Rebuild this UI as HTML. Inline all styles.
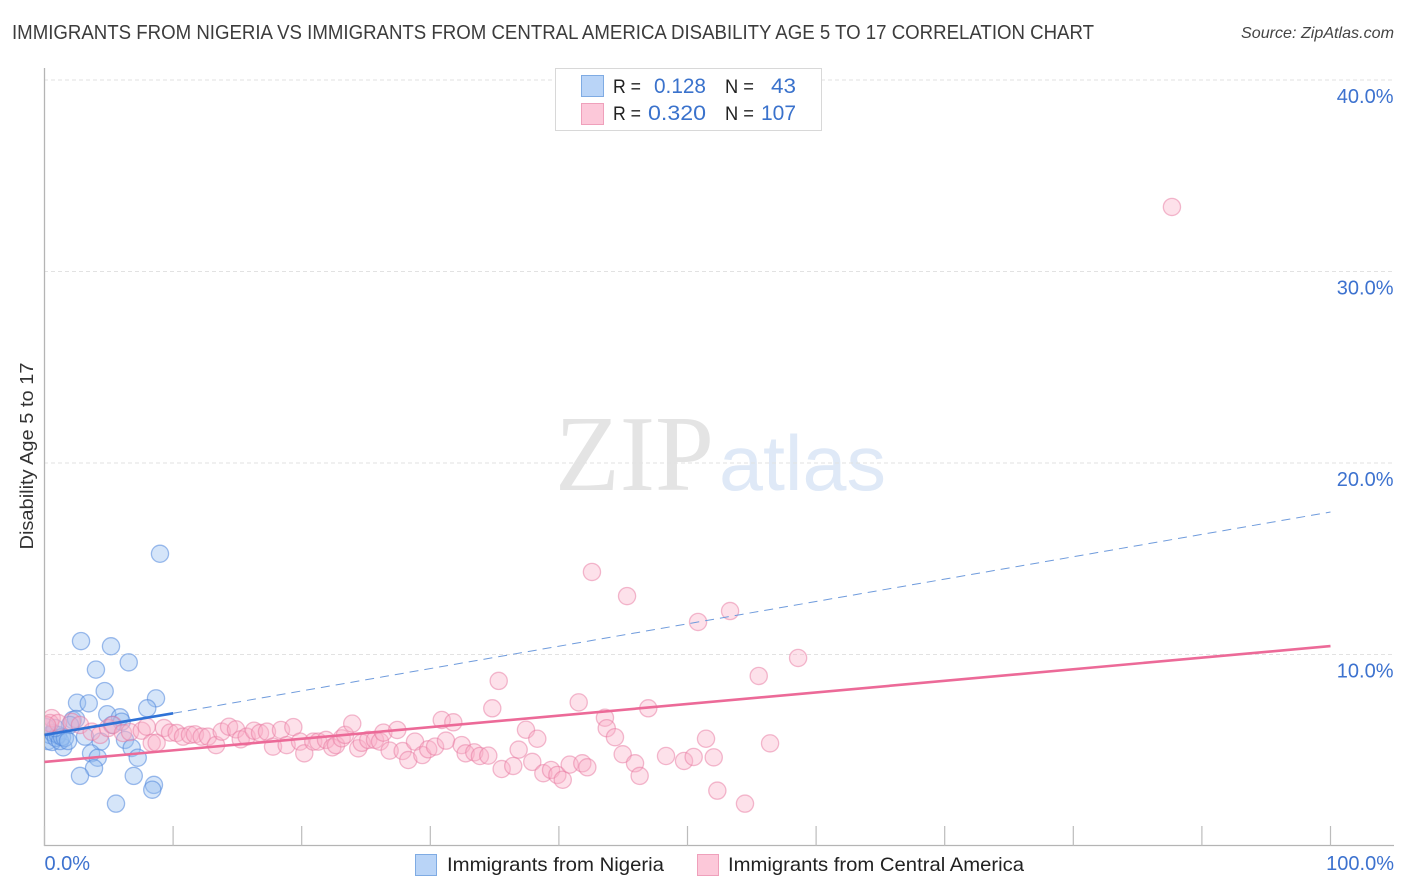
<!DOCTYPE html>
<html lang="en">
<head>
<meta charset="utf-8">
<title>Immigrants from Nigeria vs Immigrants from Central America Disability Age 5 to 17 Correlation Chart</title>
<style>
html,body{margin:0;padding:0;background:#fff;width:1406px;height:892px;overflow:hidden}
svg{display:block;font-family:"Liberation Sans",sans-serif}
</style>
</head>
<body>
<svg id="chart" xmlns="http://www.w3.org/2000/svg" width="1406" height="892" viewBox="0 0 1406 892">
  <defs><clipPath id="plot-clip"><rect x="45" y="60" width="1350" height="786"/></clipPath></defs>
  <rect x="0" y="0" width="1406" height="892" fill="#ffffff"/>
  <text x="12" y="39" font-size="20" fill="#3c3c3c" textLength="1082" lengthAdjust="spacingAndGlyphs">IMMIGRANTS FROM NIGERIA VS IMMIGRANTS FROM CENTRAL AMERICA DISABILITY AGE 5 TO 17 CORRELATION CHART</text>
  <text x="1241" y="38" font-size="16" font-style="italic" fill="#444" textLength="153" lengthAdjust="spacingAndGlyphs">Source: ZipAtlas.com</text>
  <g>
    <text x="555" y="490" font-family="'Liberation Serif',serif" font-size="108" fill="#e4e4e4" textLength="159" lengthAdjust="spacingAndGlyphs">ZIP</text>
    <text x="719" y="490" font-size="78" fill="#dfe9f7" textLength="167" lengthAdjust="spacingAndGlyphs">atlas</text>
  </g>
  <g id="grid"></g>
  <g id="axes"></g>
  <g id="points-blue" clip-path="url(#plot-clip)"></g>
  <g id="points-pink" clip-path="url(#plot-clip)"></g>
  <g id="trends"></g>
  <text x="33" y="456" font-size="18" fill="#333" text-anchor="middle" textLength="187" lengthAdjust="spacingAndGlyphs" transform="rotate(-90 33 456)">Disability Age 5 to 17</text>

  <g>
    <rect x="555.5" y="68.5" width="266" height="62" fill="#fff" stroke="#d8d8d8" stroke-width="1"/>
    <rect x="581.5" y="75.5" width="22" height="21" fill="#b9d4f7" stroke="#7fabe3"/>
    <rect x="581.5" y="103.5" width="22" height="21" fill="#fcc8d9" stroke="#efa0bb"/>
    <g font-size="19.5" fill="#222">
      <text x="613" y="93" textLength="28" lengthAdjust="spacingAndGlyphs">R =</text>
      <text x="613" y="120" textLength="28" lengthAdjust="spacingAndGlyphs">R =</text>
      <text x="725" y="93" textLength="29" lengthAdjust="spacingAndGlyphs">N =</text>
      <text x="725" y="120" textLength="29" lengthAdjust="spacingAndGlyphs">N =</text>
    </g>
    <g font-size="21" fill="#3a72cc">
      <text x="654" y="93" textLength="52" lengthAdjust="spacingAndGlyphs">0.128</text>
      <text x="648" y="120" textLength="58" lengthAdjust="spacingAndGlyphs">0.320</text>
      <text x="771" y="93" textLength="25" lengthAdjust="spacingAndGlyphs">43</text>
      <text x="761" y="120" textLength="35" lengthAdjust="spacingAndGlyphs">107</text>
    </g>
  </g>

  <g>
    <rect x="415.5" y="854.5" width="21" height="21" fill="#b9d4f7" stroke="#7fabe3"/>
    <text x="447" y="871" font-size="19.5" fill="#222" textLength="217" lengthAdjust="spacingAndGlyphs">Immigrants from Nigeria</text>
    <rect x="697.5" y="854.5" width="21" height="21" fill="#fcc8d9" stroke="#efa0bb"/>
    <text x="728" y="871" font-size="19.5" fill="#222" textLength="296" lengthAdjust="spacingAndGlyphs">Immigrants from Central America</text>
  </g>
</svg>
<script>
var blueX = [8.98,2.84,5.17,6.55,4.00,4.68,8.67,2.53,3.44,7.99,4.88,5.87,2.19,2.45,6.00,5.25,3.15,4.37,6.26,6.78,1.46,7.25,3.62,4.14,3.85,2.76,6.94,8.51,8.38,5.56,0.27,0.43,0.58,0.66,0.89,1.05,1.21,1.36,1.59,1.98,1.83,0.82,0.12];
var blueY = [15.26,10.70,10.43,9.59,9.21,8.09,7.71,7.48,7.45,7.19,6.88,6.72,6.58,6.63,6.49,6.32,5.71,5.45,5.54,5.12,5.15,4.61,4.84,4.61,4.06,3.66,3.66,3.19,2.94,2.21,5.48,5.80,5.43,5.90,5.64,5.80,5.48,5.69,5.64,6.32,5.48,6.16,6.21];
var pinkX = [0.56,0.43,1.05,2.12,2.76,3.67,4.32,4.94,5.33,6.10,6.65,7.56,7.95,8.34,8.72,9.29,9.76,10.28,10.77,11.31,11.70,12.22,12.71,13.34,13.78,14.35,14.89,15.26,15.72,16.29,16.76,17.30,17.77,18.39,18.83,19.35,19.87,20.20,20.90,21.29,21.89,22.38,22.67,23.11,23.37,23.93,24.40,24.67,25.18,25.70,26.09,26.35,26.84,27.43,27.85,28.29,28.81,29.38,29.84,30.37,30.89,31.79,31.22,32.44,32.75,33.42,33.86,34.51,34.82,35.55,35.32,41.54,46.95,55.54,43.58,43.72,44.36,37.44,38.32,36.87,36.45,37.93,38.79,39.39,39.88,40.30,40.84,41.82,42.21,44.96,45.92,46.28,48.33,49.73,50.48,52.04,51.44,56.42,52.32,54.47,87.67,42.57,45.30,53.31,50.82,58.60,0.20];
var pinkY = [6.68,6.42,6.42,6.48,6.32,5.97,5.80,6.16,6.32,5.90,5.95,6.02,6.23,5.38,5.39,6.16,5.92,5.90,5.71,5.80,5.83,5.71,5.71,5.27,5.97,6.23,6.09,5.57,5.71,6.02,5.90,5.97,5.19,6.06,5.27,6.21,5.45,4.84,5.45,5.45,5.54,5.15,5.27,5.62,5.80,6.39,5.10,5.39,5.54,5.54,5.45,5.92,4.98,6.06,4.96,4.49,5.45,4.75,5.05,5.19,6.58,6.46,5.50,5.27,4.84,4.89,4.70,4.72,7.19,4.02,8.62,7.50,7.19,8.88,6.70,6.15,5.68,6.07,5.60,5.03,4.18,4.39,3.80,3.97,3.71,3.46,4.25,4.32,4.11,4.79,4.32,3.66,4.70,4.44,4.65,4.63,5.60,5.36,2.89,2.21,33.37,14.31,13.05,12.27,11.70,9.82,6.30];
var blueTrendX = [0,10,100];
var blueTrendY = [5.80,6.93,17.44];
var pinkTrendX = [0,100];
var pinkTrendY = [4.39,10.44];
var yTicks = [10,20,30,40];
var yTickLabels = ["10.0%","20.0%","30.0%","40.0%"];
var xTicks = [0,10,20,30,40,50,60,70,80,90,100];
var xEndTicks = [0,100];
var xEndLabels = ["0.0%","100.0%"];

function sx(v){ return 44.5 + v * 12.86; }
function sy(v){ return 846 - v * 19.15; }

var NS = 'http://www.w3.org/2000/svg';
function mk(tag, parent, attrs){
  var el = document.createElementNS(NS, tag);
  for (var k in attrs) el.setAttribute(k, attrs[k]);
  parent.appendChild(el);
  return el;
}

var grid = document.getElementById('grid');
yTicks.forEach(function(t){
  var el = mk('line', grid, {x1:44, x2:1394, y1:sy(t), y2:sy(t), stroke:'#e2e2e2', 'stroke-width':1, 'stroke-dasharray':'4 3'});
  
  
});

var axes = document.getElementById('axes');
var yAxisLine = mk('line', axes, {x1:44.5, x2:44.5, y1:68, y2:846, stroke:'#b4b4b4', 'stroke-width':1.3});


var xAxisLine = mk('line', axes, {x1:44, x2:1394, y1:845.5, y2:845.5, stroke:'#b4b4b4', 'stroke-width':1.3});


xTicks.forEach(function(t){
  var el = mk('line', axes, {x1:sx(t), x2:sx(t), y1:826, y2:846, stroke:'#bcbcbc', 'stroke-width':1.2});
  
  
});
yTicks.forEach(function(t, i){
  var el = mk('text', axes, {x:1393.5, y:sy(t) + 23, 'font-size':20, fill:'#3d72cf', 'text-anchor':'end'});
  el.textContent = yTickLabels[i];
  
  
});
xEndTicks.forEach(function(t, i){
  var el = mk('text', axes, {x: i === 0 ? sx(t) : sx(t) + 63.5, y:870, 'font-size':20, fill:'#3d72cf', 'text-anchor': i === 0 ? 'start' : 'end'});
  el.textContent = xEndLabels[i];
  
  
});

var gBlue = document.getElementById('points-blue');
blueX.forEach(function(v, i){
  var el = mk('circle', gBlue, {cx:sx(v), cy:sy(blueY[i]), r:8.6, fill:'rgba(150,190,240,0.40)', stroke:'rgba(80,135,220,0.55)', 'stroke-width':1.3});
  
  
});
var gPink = document.getElementById('points-pink');
pinkX.forEach(function(v, i){
  var el = mk('circle', gPink, {cx:sx(v), cy:sy(pinkY[i]), r:8.6, fill:'rgba(250,175,200,0.38)', stroke:'rgba(232,120,160,0.50)', 'stroke-width':1.3});
  
  
});

var trends = document.getElementById('trends');
var blueSolid = mk('line', trends, {x1:sx(blueTrendX[0]), y1:sy(blueTrendY[0]), x2:sx(blueTrendX[1]), y2:sy(blueTrendY[1]), stroke:'#2f72d6', 'stroke-width':2.6});


var blueDash = mk('line', trends, {x1:sx(blueTrendX[1]), y1:sy(blueTrendY[1]), x2:sx(blueTrendX[2]), y2:sy(blueTrendY[2]), stroke:'#6f9bdc', 'stroke-width':1, 'stroke-dasharray':'9 6'});


var pinkTrend = mk('line', trends, {x1:sx(pinkTrendX[0]), y1:sy(pinkTrendY[0]), x2:sx(pinkTrendX[1]), y2:sy(pinkTrendY[1]), stroke:'#ec6a98', 'stroke-width':2.6});


</script>
</body>
</html>
